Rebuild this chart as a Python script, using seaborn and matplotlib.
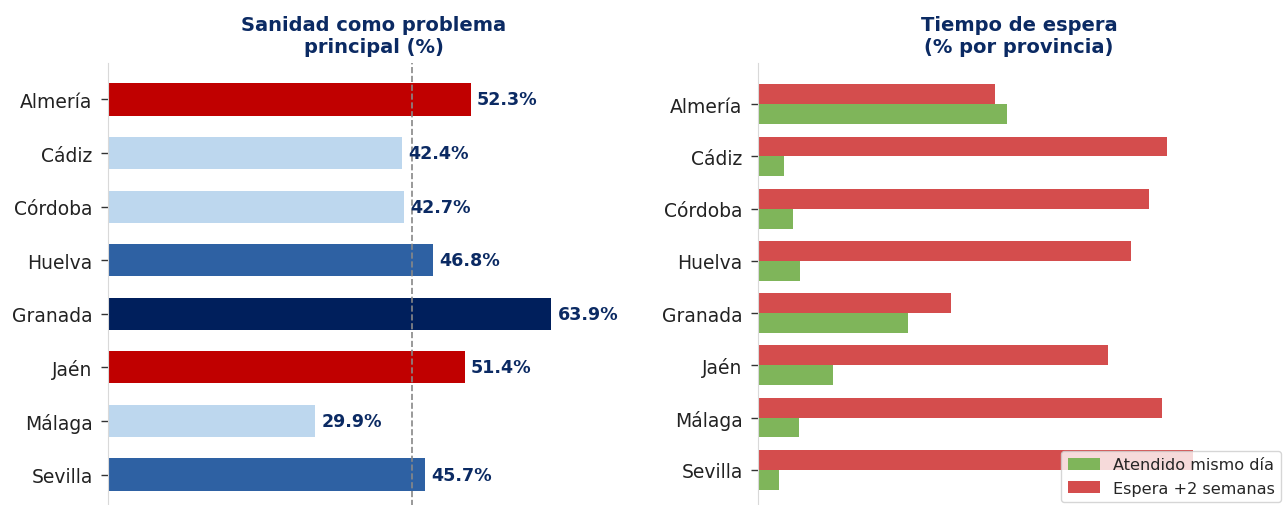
import pandas as pd
import seaborn as sns
from matplotlib import pyplot as plt

# Provinces and survey values
provincias = ["Almería", "Cádiz", "Córdoba", "Huelva", "Granada", "Jaén", "Málaga", "Sevilla"]
sanidad_pct = [52.3, 42.4, 42.7, 46.8, 63.9, 51.4, 29.9, 45.7]
media_ref = 43.8
atendido_mismo_dia = [29.3, 3.1, 4.1, 4.9, 17.6, 8.8, 4.8, 2.5]
espera_2_semanas = [27.8, 48.1, 45.9, 43.8, 22.7, 41.1, 47.4, 51.1]

NAVY = "#0b2a63"


def color_for(v):
    # colour bands for the left chart
    if v >= 60:
        return "#001f5c"
    if v >= 50:
        return "#c00000"
    if v >= 45:
        return "#2e61a3"
    return "#bdd7ee"


sns.set_style("white")
plt.rcParams["font.family"] = ["DejaVu Sans"]

fig = plt.figure(figsize=(12.87, 5.06), dpi=100)
W, H = 1287, 506
ax1 = fig.add_axes([108 / W, -6 / H, (640 - 108) / W, (512 - 64) / H])
ax2 = fig.add_axes([758 / W, -6 / H, (1280 - 758) / W, (512 - 64) / H])

# Left chart
df1 = pd.DataFrame({"provincia": provincias, "pct": sanidad_pct})
sns.barplot(data=df1, y="provincia", x="pct", hue="provincia", legend=False,
            palette=[color_for(v) for v in sanidad_pct], width=0.6,
            saturation=1, linewidth=0, ax=ax1)
for i, v in enumerate(sanidad_pct):
    ax1.text(v + 0.9, i, f"{v}%", va="center", ha="left", fontsize=12.6,
             fontweight="bold", color=NAVY)
ax1.axvline(media_ref, color="#888888", linestyle="--", lw=1.2)
ax1.set_xlim(0, max(sanidad_pct) * 1.2)
ax1.set_ylim(7.68, -0.68)
ax1.set_title("Sanidad como problema\nprincipal (%)", fontsize=14,
              fontweight="bold", color=NAVY, pad=8)

# Right chart
df2 = pd.DataFrame({
    "provincia": provincias * 2,
    "valor": espera_2_semanas + atendido_mismo_dia,
    "tipo": ["Espera +2 semanas"] * 8 + ["Atendido mismo día"] * 8,
})
sns.barplot(data=df2, y="provincia", x="valor", hue="tipo",
            hue_order=["Espera +2 semanas", "Atendido mismo día"],
            palette={"Espera +2 semanas": "#d44d4d", "Atendido mismo día": "#7fb55a"},
            width=0.76, saturation=1, linewidth=0, ax=ax2)
ax2.set_xlim(0, max(espera_2_semanas) * 1.2)
ax2.set_ylim(7.79, -0.79)
ax2.set_title("Tiempo de espera\n(% por provincia)", fontsize=14,
              fontweight="bold", color=NAVY, pad=8)
handles, labels = ax2.get_legend_handles_labels()
ax2.legend(handles[::-1], labels[::-1], loc="lower right", fontsize=11.6,
           frameon=True, framealpha=0.8, borderaxespad=0.0,
           bbox_to_anchor=(1281 / W, 3 / H), bbox_transform=fig.transFigure)

for ax in (ax1, ax2):
    ax.set_xlabel("")
    ax.set_ylabel("")
    ax.set_xticks([])
    for s in ("top", "right", "bottom"):
        ax.spines[s].set_visible(False)
    ax.spines["left"].set_color("#d9d9d9")
    ax.tick_params(axis="y", left=True, length=5, width=1, color="#333333",
                   labelsize=13.5, labelcolor="#222222", pad=6)

fig.savefig("out.png", dpi=100)
